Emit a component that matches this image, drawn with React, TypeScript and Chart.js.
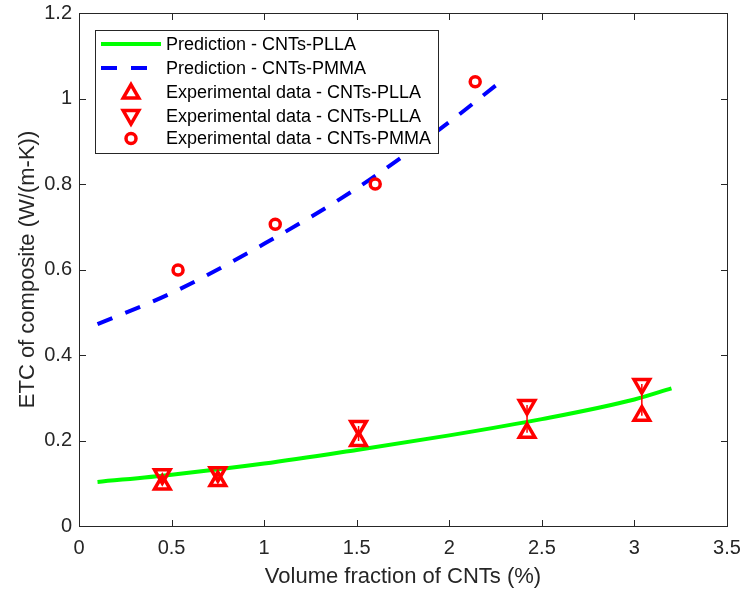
import React, { useEffect, useRef } from 'react';
import { Chart, registerables } from 'chart.js';

Chart.register(...registerables);

// ---- data ----
const pllaPredX = [0.1, 0.5, 1.0, 1.5, 2.0, 2.5, 3.0, 3.2];
const pllaPredY = [0.103, 0.12, 0.146, 0.178, 0.212, 0.25, 0.296, 0.322];

const pmmaPredX = [0.1, 0.5, 1.0, 1.5, 2.0, 2.25];
const pmmaPredY = [0.472, 0.545, 0.66, 0.79, 0.945, 1.03];

const pllaExpX = [0.45, 0.75, 1.51, 2.42, 3.04];
const pllaExpLow = [0.097, 0.105, 0.199, 0.218, 0.258];
const pllaExpHigh = [0.121, 0.126, 0.234, 0.283, 0.332];

const pmmaExpX = [0.535, 1.06, 1.6, 2.14];
const pmmaExpY = [0.599, 0.706, 0.8, 1.039];

const xTicksMax = 3.5;
const yTicksMax = 1.2;

const seriesLabels = [
  'Prediction - CNTs-PLLA',
  'Prediction - CNTs-PMMA',
  'Experimental data - CNTs-PLLA',
  'Experimental data - CNTs-PLLA',
  'Experimental data - CNTs-PMMA',
];
const xTitle = 'Volume fraction of CNTs (%)';
const yTitle = 'ETC of composite (W/(m-K))';

const AXIS = '#262626';
const FONT = '"Liberation Sans", Arial, Helvetica, sans-serif';
const GREEN = '#00ff00';
const BLUE = '#0000ff';
const RED = '#ff0000';

function pts(xs: number[], ys: number[]) {
  return xs.map((x, i) => ({ x, y: ys[i] }));
}

function drawTri(ctx: CanvasRenderingContext2D, x: number, y: number, r: number, down: boolean) {
  let rad = down ? Math.PI : 0;
  ctx.beginPath();
  for (let k = 0; k < 3; k++) {
    const px = x + Math.sin(rad) * r;
    const py = y - Math.cos(rad) * r;
    if (k === 0) ctx.moveTo(px, py);
    else ctx.lineTo(px, py);
    rad += (2 * Math.PI) / 3;
  }
  ctx.closePath();
  ctx.stroke();
}

const framePlugin = {
  id: 'frameAndLegend',
  afterDatasetsDraw(chart: any) {
    const ctx: CanvasRenderingContext2D = chart.ctx;
    const a = chart.chartArea;
    const xs = chart.scales.x;
    const ys = chart.scales.y;
    ctx.save();
    // frame
    ctx.strokeStyle = AXIS;
    ctx.lineWidth = 1;
    const L = Math.round(a.left) + 0.5;
    const T = Math.round(a.top) + 0.5;
    const R = Math.round(a.right) + 0.5;
    const B = Math.round(a.bottom) + 0.5;
    ctx.strokeRect(L, T, R - L, B - T);
    const tl = 6.5;
    ctx.beginPath();
    xs.ticks.forEach((t: any) => {
      if (t.value <= xs.min || t.value >= xs.max) return;
      const px = Math.round(xs.getPixelForValue(t.value)) + 0.5;
      ctx.moveTo(px, B);
      ctx.lineTo(px, B - tl);
      ctx.moveTo(px, T);
      ctx.lineTo(px, T + tl);
    });
    ys.ticks.forEach((t: any) => {
      if (t.value <= ys.min || t.value >= ys.max) return;
      const py = Math.round(ys.getPixelForValue(t.value)) + 0.5;
      ctx.moveTo(L, py);
      ctx.lineTo(L + tl, py);
      ctx.moveTo(R, py);
      ctx.lineTo(R - tl, py);
    });
    ctx.stroke();

    // legend
    const bx = 95, by = 30, bw = 343, bh = 123;
    ctx.fillStyle = '#ffffff';
    ctx.fillRect(bx, by, bw, bh);
    ctx.strokeStyle = AXIS;
    ctx.lineWidth = 1;
    ctx.strokeRect(bx + 0.5, by + 0.5, bw, bh);
    const items = chart.data.datasets
      .filter((d: any) => d.label)
      .sort((p: any, q: any) => p.legendIndex - q.legendIndex);
    const rowY = [44, 68, 92.5, 116, 138.5];
    items.forEach((d: any, i: number) => {
      const y = rowY[i];
      ctx.save();
      if (d.pointRadius === 0) {
        ctx.strokeStyle = d.borderColor;
        ctx.lineWidth = d.borderWidth;
        ctx.setLineDash(d.borderDash || []);
        ctx.beginPath();
        ctx.moveTo(101, y);
        ctx.lineTo(161, y);
        ctx.stroke();
      } else {
        ctx.strokeStyle = d.pointBorderColor;
        ctx.lineWidth = d.pointBorderWidth;
        if (d.pointStyle === 'triangle') {
          drawTri(ctx, 131, y + (d.pointRotation === 180 ? -1 : 1), d.pointRadius, d.pointRotation === 180);
        } else {
          ctx.beginPath();
          ctx.arc(131, y, d.pointRadius, 0, Math.PI * 2);
          ctx.stroke();
        }
      }
      ctx.restore();
      ctx.fillStyle = '#000000';
      ctx.font = `18px ${FONT}`;
      ctx.textBaseline = 'middle';
      ctx.textAlign = 'left';
      ctx.fillText(d.label, 166, y + 1);
    });
    ctx.restore();
  },
};

export default function App() {
  const ref = useRef<HTMLCanvasElement>(null);
  useEffect(() => {
    if (!ref.current) return;
    const errData: any[] = [];
    pllaExpX.forEach((x, i) => {
      errData.push({ x, y: pllaExpLow[i] });
      errData.push({ x, y: pllaExpHigh[i] });
      errData.push({ x, y: null });
    });
    const chart = new Chart(ref.current, {
      type: 'scatter',
      data: {
        datasets: [
          {
            label: seriesLabels[2],
            legendIndex: 2,
            data: pts(pllaExpX, pllaExpLow),
            showLine: false,
            pointStyle: 'triangle',
            pointRadius: 9,
            pointRotation: 0,
            pointBorderWidth: 3.5,
            pointBorderColor: RED,
            pointBackgroundColor: 'rgba(0,0,0,0)',
            borderColor: RED,
            backgroundColor: 'rgba(0,0,0,0)',
          },
          {
            label: seriesLabels[3],
            legendIndex: 3,
            data: pts(pllaExpX, pllaExpHigh),
            showLine: false,
            pointStyle: 'triangle',
            pointRadius: 9,
            pointRotation: 180,
            pointBorderWidth: 3.5,
            pointBorderColor: RED,
            pointBackgroundColor: 'rgba(0,0,0,0)',
            borderColor: RED,
            backgroundColor: 'rgba(0,0,0,0)',
          },
          {
            label: seriesLabels[4],
            legendIndex: 4,
            data: pts(pmmaExpX, pmmaExpY),
            showLine: false,
            pointStyle: 'circle',
            pointRadius: 5,
            pointBorderWidth: 3.5,
            pointBorderColor: RED,
            pointBackgroundColor: 'rgba(0,0,0,0)',
            borderColor: RED,
            backgroundColor: 'rgba(0,0,0,0)',
          },
          {
            label: '',
            legendIndex: 99,
            data: errData,
            showLine: true,
            spanGaps: false,
            pointRadius: 0,
            borderColor: RED,
            borderWidth: 1.5,
          },
          {
            label: seriesLabels[0],
            legendIndex: 0,
            data: pts(pllaPredX, pllaPredY),
            showLine: true,
            pointRadius: 0,
            borderColor: GREEN,
            borderWidth: 4,
            tension: 0.3,
            cubicInterpolationMode: 'monotone',
          },
          {
            label: seriesLabels[1],
            legendIndex: 1,
            data: pts(pmmaPredX, pmmaPredY),
            showLine: true,
            pointRadius: 0,
            borderColor: BLUE,
            borderWidth: 4,
            borderDash: [16, 14],
            tension: 0.3,
            cubicInterpolationMode: 'monotone',
          },
        ] as any,
      },
      options: {
        animation: false,
        responsive: false,
        devicePixelRatio: 1,
        layout: { padding: { top: 13, right: 17, left: 0, bottom: 0 } },
        plugins: { legend: { display: false }, tooltip: { enabled: false } },
        scales: {
          x: {
            type: 'linear',
            min: 0,
            max: xTicksMax,
            grid: { display: false, drawTicks: false },
            border: { display: false },
            ticks: {
              stepSize: 0.5,
              color: AXIS,
              font: { family: FONT, size: 20 },
              padding: 10,
              maxRotation: 0,
              callback: (v: any) => String(Number(Number(v).toFixed(2))),
            },
            title: {
              display: true,
              text: xTitle,
              color: AXIS,
              font: { family: FONT, size: 22 },
              padding: { top: 0, bottom: 2 },
            },
            afterFit: (s: any) => {
              s.height = 66;
              s.paddingLeft = 0;
              s.paddingRight = 0;
            },
          },
          y: {
            type: 'linear',
            min: 0,
            max: yTicksMax,
            grid: { display: false, drawTicks: false },
            border: { display: false },
            ticks: {
              stepSize: 0.2,
              color: AXIS,
              font: { family: FONT, size: 20 },
              padding: 7,
              callback: (v: any) => String(Number(Number(v).toFixed(2))),
            },
            title: {
              display: true,
              text: yTitle,
              color: AXIS,
              font: { family: FONT, size: 22 },
              padding: { top: 15, bottom: 0 },
            },
            afterFit: (s: any) => {
              s.width = 79;
              s.paddingTop = 0;
              s.paddingBottom = 0;
            },
          },
        },
      } as any,
      plugins: [framePlugin],
    });
    return () => chart.destroy();
  }, []);
  return (
    <div style={{ position: 'fixed', left: 0, top: 0, width: 744, height: 592, background: '#fff' }}>
      <canvas ref={ref} width={744} height={592} style={{ width: 744, height: 592, display: 'block' }} />
    </div>
  );
}
